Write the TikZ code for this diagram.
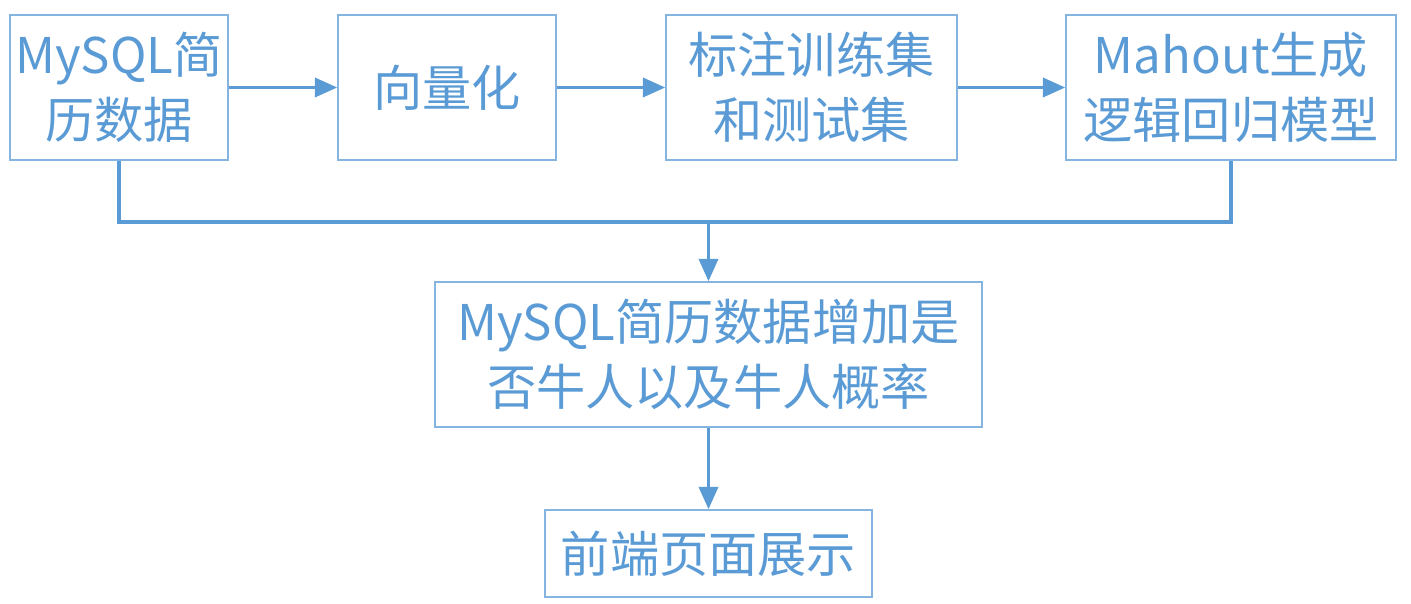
\documentclass[tikz,border=0pt]{standalone}
\usepackage{fontspec}
\setmainfont{Noto Sans CJK SC}
\usetikzlibrary{arrows.meta}
\definecolor{flowblue}{HTML}{5B9BD5}

\begin{document}
\begin{tikzpicture}[x=0.02cm,y=-0.02cm,
  box/.style={draw=flowblue!75,line width=0.8pt,text=flowblue,align=center,
    inner sep=0pt,font=\fontsize{28}{37}\selectfont,minimum height=2.9cm},
  link/.style={draw=flowblue,line width=2.2pt},
  arr/.style={link,-{Triangle[length=0.45cm,width=0.38cm]}}]
\useasboundingbox (0,0) rectangle (1411,604);
\node[box,minimum width=4.36cm] (mysql) at (119,87.5) {MySQL简\\历数据};
\node[box,minimum width=4.36cm] (vec) at (447,87.5) {向量化};
\node[box,minimum width=5.82cm] (label) at (811.5,87.5) {标注训练集\\和测试集};
\node[box,minimum width=6.6cm] (mahout) at (1231,87.5) {Mahout生成\\逻辑回归模型};
\node[box,minimum width=10.94cm] (score) at (708.5,354.5) {MySQL简历数据增加是\\否牛人以及牛人概率};
\node[box,minimum width=6.54cm,minimum height=1.74cm] (show) at (708.5,553.5) {前端页面展示};
\coordinate (join) at (708.5,222);
\draw[arr] (mysql) -- (vec);
\draw[arr] (vec) -- (label);
\draw[arr] (label) -- (mahout);
\draw[link] (mysql.south) |- (join) -| (mahout.south);
\draw[arr] (join) -- (score);
\draw[arr] (score) -- (show);
\end{tikzpicture}
\end{document}
